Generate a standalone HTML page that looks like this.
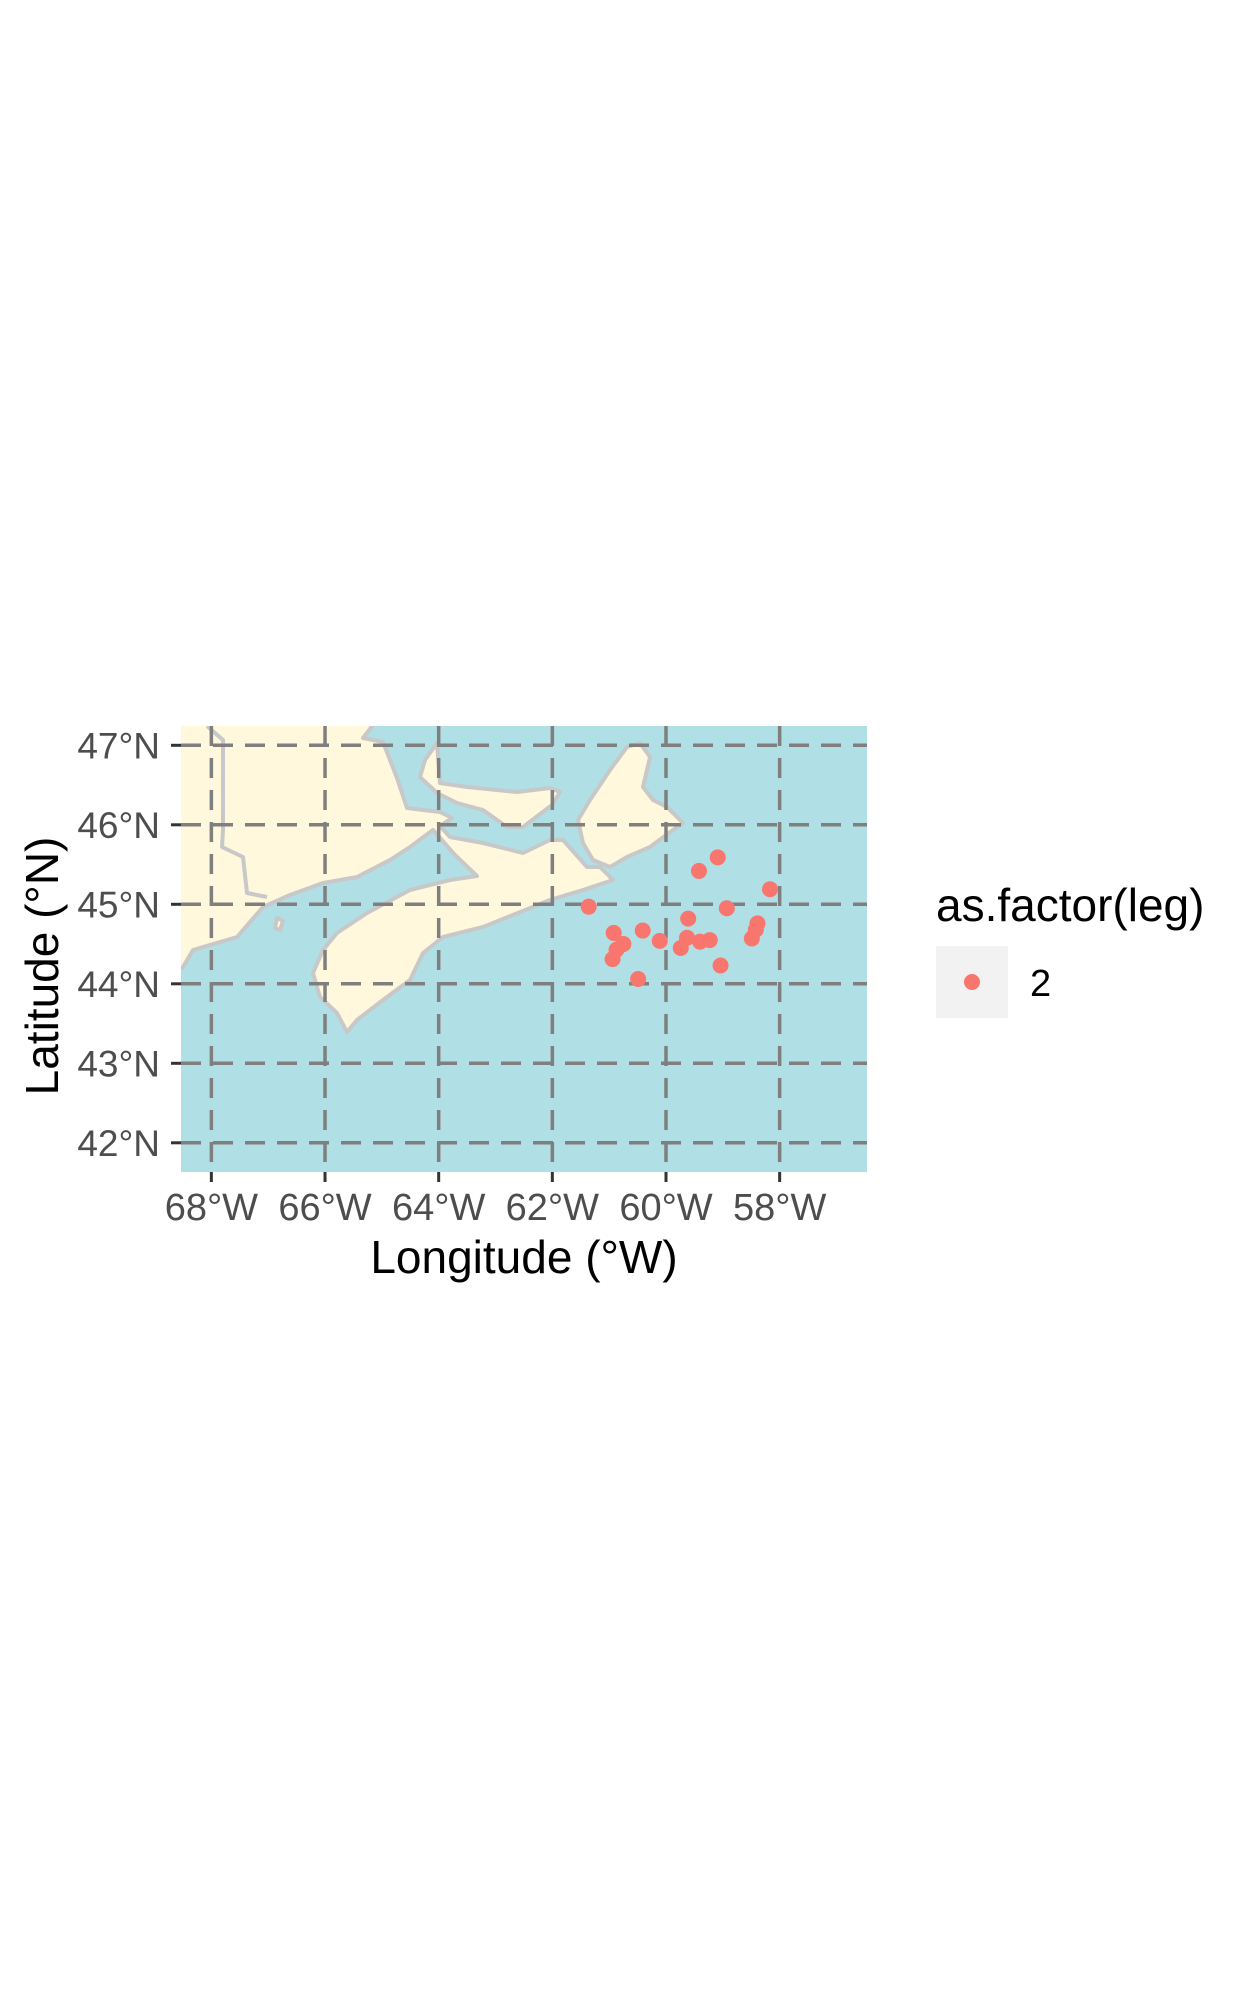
<!DOCTYPE html>
<html><head><meta charset="utf-8"><style>
html,body{margin:0;padding:0;background:#fff;}
svg{display:block;font-family:"Liberation Sans",Arial,sans-serif;}
</style></head><body>
<svg id="chart" width="1253" height="2009" viewBox="0 0 1253 2009">
<defs><clipPath id="clip"><rect x="181" y="726" width="686" height="446"/></clipPath></defs>
<rect x="181" y="726" width="686" height="446" fill="#b0dfe5"/>
<g clip-path="url(#clip)" fill="#fff8dc" stroke="#c8c8c8" stroke-width="4" stroke-linejoin="round">
<path d="M170,720 L377,720 L363,738 L383,742 L390,760 L397,778 L407,808 L440,812 L452,818 L440,826 L450,837 L483,843 L523,853 L550,840 L563,840 L587,867 L600,867 L613,880 L583,890 L550,900 L483,927 L443,937 L423,953 L410,980 L383,1000 L357,1020 L347,1032 L337,1013 L320,997 L313,973 L323,950 L337,933 L367,913 L410,890 L450,880 L477,876 L455,855 L433,830 L410,847 L390,860 L357,877 L323,883 L290,895 L263,907 L237,937 L193,950 L183,967 L170,975 Z"/>
<path d="M437,743 L440,783 L467,787 L517,792 L550,788 L560,792 L552,805 L523,827 L507,827 L483,810 L457,803 L437,793 L420,777 L425,760 Z"/>
<path d="M578,820 L590,800 L610,770 L627,747 L640,743 L650,757 L643,787 L653,800 L667,807 L683,823 L673,830 L650,847 L627,857 L610,867 L593,860 L583,843 Z"/>
<path d="M277,918 L283,921 L280,930 L275,928 Z"/>
<polyline fill="none" points="207,726 223,740 223,830 222,847 243,857 247,893 267,897"/>
</g>
<g id="grid"></g>
<g id="ticks"></g>
<g id="points"></g>
<text x="524" y="1273" font-size="46" text-anchor="middle" fill="#000">Longitude (°W)</text>
<text transform="translate(58,966) rotate(-90)" font-size="46" text-anchor="middle" fill="#000">Latitude (°N)</text>
<g>
<text x="936" y="921" font-size="46" fill="#000">as.factor(leg)</text>
<rect x="936" y="946" width="72" height="72" fill="#f2f2f2"/>
<circle cx="972" cy="982" r="8" fill="#f8766d"/>
<text x="1030" y="996" font-size="38" fill="#000">2</text>
</g>
</svg>
<script>
const lonTicks = [-68, -66, -64, -62, -60, -58];
const lonLabels = ["68°W","66°W","64°W","62°W","60°W","58°W"];
const latTicks = [42, 43, 44, 45, 46, 47];
const latLabels = ["42°N","43°N","44°N","45°N","46°N","47°N"];
const pointLon = [-61.36,-59.09,-59.42,-58.17,-58.93,-59.61,-58.39,-58.49,-60.92,-60.41,-60.75,-60.87,-60.94,-60.11,-59.63,-59.74,-59.40,-59.23,-59.04,-60.49,-58.42];
const pointLat = [44.97,45.59,45.42,45.19,44.95,44.82,44.76,44.57,44.64,44.67,44.50,44.43,44.31,44.54,44.58,44.45,44.53,44.55,44.23,44.06,44.68];

const NS = "http://www.w3.org/2000/svg";
function xScale(lon){ return 666 + (lon + 60) * 56.83; }
function yScale(lat){ return 904.3 - (lat - 45) * 79.5; }
const grid = document.getElementById('grid');
const ticks = document.getElementById('ticks');
const pts = document.getElementById('points');
function mk(tag, attrs, parent){ const e=document.createElementNS(NS,tag); for(const k in attrs) e.setAttribute(k,attrs[k]); parent.appendChild(e); return e; }

lonTicks.forEach((lon,i)=>{
  const x = xScale(lon);
  const g = mk('line',{x1:x,x2:x,y1:726,y2:1172,stroke:'#7f7f7f','stroke-width':3.5,'stroke-dasharray':'20 12'},grid);
  
  
  const t = mk('line',{x1:x,x2:x,y1:1172,y2:1182,stroke:'#333','stroke-width':3},ticks);
  
  
  const l = mk('text',{x:x,y:1220,'font-size':38,'text-anchor':'middle',fill:'#4d4d4d'},ticks);
  l.textContent = lonLabels[i];
  
  
});
latTicks.forEach((lat,i)=>{
  const y = yScale(lat);
  const g = mk('line',{x1:181,x2:867,y1:y,y2:y,stroke:'#7f7f7f','stroke-width':3.5,'stroke-dasharray':'20 12'},grid);
  
  
  const t = mk('line',{x1:171,x2:181,y1:y,y2:y,stroke:'#333','stroke-width':3},ticks);
  
  
  const l = mk('text',{x:160,y:y+13,'font-size':37,'text-anchor':'end',fill:'#4d4d4d'},ticks);
  l.textContent = latLabels[i];
  
  
});
pointLon.forEach((lon,i)=>{
  const c = mk('circle',{cx:xScale(lon),cy:yScale(pointLat[i]),r:8,fill:'#f8766d'},pts);
  
  
});
</script>
</body></html>
